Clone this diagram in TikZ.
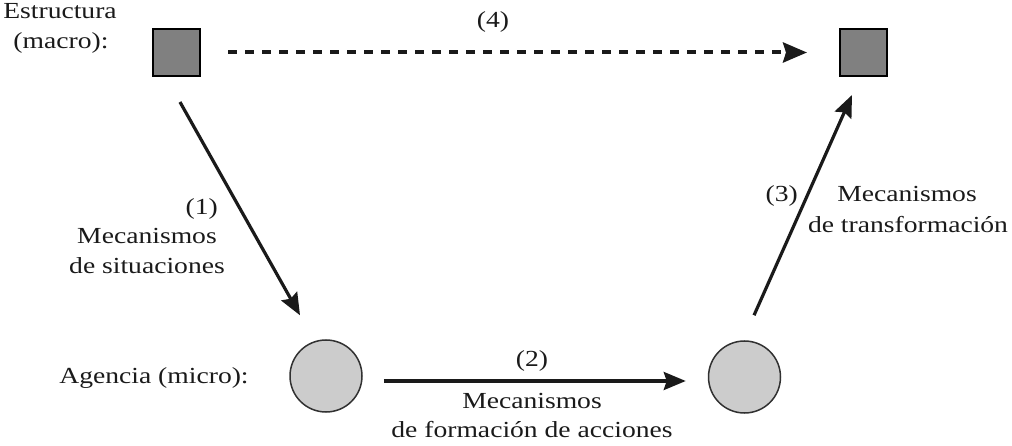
\documentclass[tikz,border=0pt]{standalone}
\usepackage{fontspec}
\setmainfont{Liberation Serif}[FakeStretch=1.2]
\usetikzlibrary{arrows.meta,calc}
\definecolor{ink}{HTML}{1A1A1A}
\definecolor{sqfill}{HTML}{808080}
\definecolor{cfill}{HTML}{CCCCCC}
\begin{document}
\begin{tikzpicture}[x=1pt,y=-1pt,
  txt/.style={font=\fontsize{23}{30}\selectfont, inner sep=0pt, anchor=base, text=ink},
  sq/.style={draw=black, line width=2pt, fill=sqfill, minimum size=47pt, inner sep=0pt},
  circ/.style={circle, draw=ink!90, line width=1.5pt, fill=cfill, minimum size=72pt, inner sep=0pt},
  arr/.style={draw=ink, line width=3.2pt, -{Stealth[length=22pt,width=18pt,inset=3pt]}},
  darr/.style={draw=ink, line width=4pt, dash pattern=on 9pt off 8pt, -{Stealth[length=24pt,width=20pt,inset=3pt]}}
]
\useasboundingbox (0,0) rectangle (1012,446);

\node[sq] (sqL) at (176.5,52.5) {};
\node[sq] (sqR) at (863.5,52.5) {};
\node[circ] (cL) at (326,376) {};
\node[circ] (cR) at (744.5,377) {};

% labels
\node[txt] (estr) at (60,19) {Estructura};
\node[txt] (macro) at (61,49) {(macro):};
\node[txt] (agencia) at (154,383) {Agencia (micro):};

\node[txt] (l4) at (493,28) {(4)};

\node[txt, anchor=base east] (l1) at (218,215) {(1)};
\node[txt] (m1a) at (147,244) {Mecanismos};
\node[txt] (m1b) at (147,274) {de situaciones};

\node[txt] (l2) at (532,366) {(2)};
\node[txt] (m2a) at (532,408) {Mecanismos};
\node[txt] (m2b) at (532,437) {de formación de acciones};

\node[txt, anchor=base east] (l3) at (798,202) {(3)};
\node[txt] (m3a) at (907,202) {Mecanismos};
\node[txt] (m3b) at (908,233) {de transformación};

% connectors
\draw[darr, shorten <=27pt, shorten >=32pt] (sqL.east) -- (sqR.west);
\draw[arr, shorten <=28.7pt, shorten >=27.5pt] ([xshift=-10.6pt]sqL.south) -- ([xshift=-12.5pt]cL.north);
\draw[arr, shorten <=21pt, shorten >=22pt] ([yshift=-5pt]cL.east) -- ([yshift=-4pt]cR.west);
\draw[arr, shorten <=27.4pt, shorten >=19.7pt] ([xshift=-1.6pt]cR.north) -- ([xshift=-3.5pt]sqR.south);
\end{tikzpicture}
\end{document}
